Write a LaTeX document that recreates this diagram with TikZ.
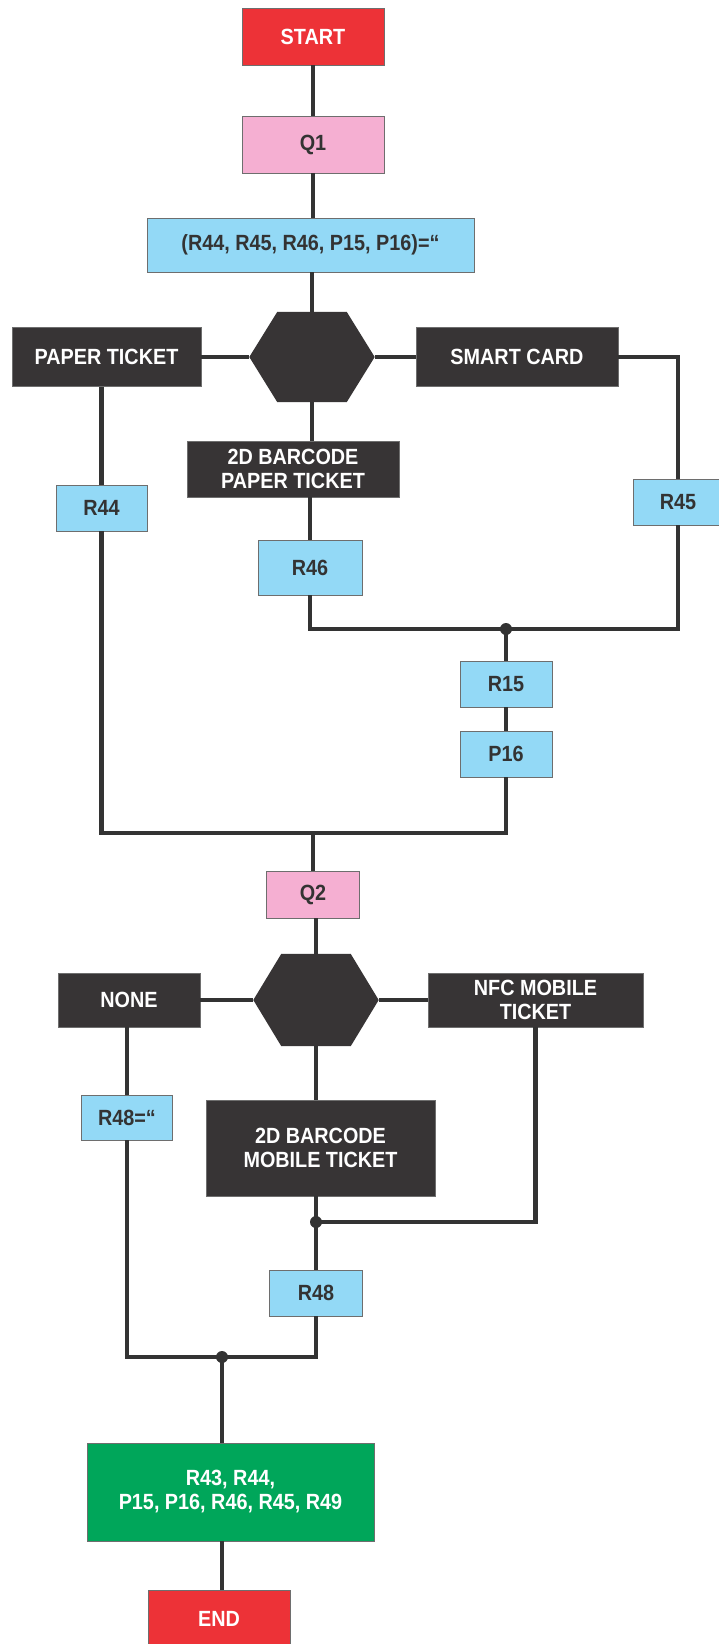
\documentclass[tikz,border=0pt]{standalone}
\usepackage{fontspec}
\setmainfont{Liberation Sans}[FakeStretch=0.9]
\usetikzlibrary{calc}
\definecolor{cred}{HTML}{ED3237}
\definecolor{cpink}{HTML}{F5AFD2}
\definecolor{ccyan}{HTML}{93D9F6}
\definecolor{cdark}{HTML}{373435}
\definecolor{cgreen}{HTML}{00A65A}
\definecolor{ctext}{HTML}{333333}
\definecolor{cline}{HTML}{333333}
\definecolor{boxedge}{HTML}{6E6E6E}
\begin{document}
\begin{tikzpicture}[x=1pt,y=-1pt,
  box/.style={rectangle, draw=boxedge, line width=0.9pt, inner sep=0pt, align=center,
    font=\fontsize{22}{24}\selectfont\bfseries},
  redbox/.style={box, fill=cred, text=white},
  pinkbox/.style={box, fill=cpink, text=ctext},
  cyanbox/.style={box, fill=ccyan, text=ctext},
  darkbox/.style={box, fill=cdark, text=white},
  greenbox/.style={box, fill=cgreen, text=white},
  hexnode/.style={rectangle, inner sep=0pt, minimum width=125pt, minimum height=90pt},
  wire/.style={draw=cline, line width=4.8pt, line join=miter},
  jdot/.style={circle, fill=cline, inner sep=0pt, minimum size=12pt},
]
\useasboundingbox (0,0) rectangle (718,1644);
\fill[white] (0,0) rectangle (718,1644);

% top part
\node[redbox, minimum width=142pt, minimum height=57pt] (start) at (313,36.5) {START};
\node[pinkbox, minimum width=142pt, minimum height=57pt] (q1) at (313,144.5) {Q1};
\node[cyanbox, minimum width=327pt, minimum height=54pt] (init) at (310.5,245) {(R44,\ R45,\ R46,\ P15,\ P16)=“};
\node[hexnode] (h1) at (312,357) {};
\fill[cdark] (h1.west) -- ([xshift=28pt]h1.north west) -- ([xshift=-28pt]h1.north east) -- (h1.east)
  -- ([xshift=-28pt]h1.south east) -- ([xshift=28pt]h1.south west) -- cycle;
\node[darkbox, minimum width=189pt, minimum height=59pt] (paper) at (106.5,357) {PAPER TICKET};
\node[darkbox, minimum width=202pt, minimum height=59pt] (smart) at (517,357) {SMART CARD};
\node[darkbox, minimum width=212pt, minimum height=56pt] (bpaper) at (293,469) {2D BARCODE\\PAPER TICKET};
\node[cyanbox, minimum width=91pt, minimum height=46pt] (r44) at (101.5,508) {R44};
\node[cyanbox, minimum width=90pt, minimum height=46pt] (r45) at (678,502) {R45};
\node[cyanbox, minimum width=104pt, minimum height=55pt] (r46) at (310,567.5) {R46};
\coordinate (j1) at (506,629);
\node[cyanbox, minimum width=92pt, minimum height=46pt] (r15) at (506,684) {R15};
\node[cyanbox, minimum width=92pt, minimum height=46pt] (p16) at (506,754) {P16};
\coordinate (j0) at (313,833);

% lower part
\node[pinkbox, minimum width=93pt, minimum height=47pt] (q2) at (313,894.5) {Q2};
\node[hexnode, minimum height=92pt] (h2) at (316,1000) {};
\fill[cdark] (h2.west) -- ([xshift=28pt]h2.north west) -- ([xshift=-28pt]h2.north east) -- (h2.east)
  -- ([xshift=-28pt]h2.south east) -- ([xshift=28pt]h2.south west) -- cycle;
\node[darkbox, minimum width=142pt, minimum height=54pt] (none) at (129,1000) {NONE};
\node[darkbox, minimum width=215pt, minimum height=54pt] (nfc) at (535.5,1000) {NFC MOBILE\\TICKET};
\node[cyanbox, minimum width=91pt, minimum height=45pt] (r48e) at (127,1117.5) {R48=“};
\node[darkbox, minimum width=229pt, minimum height=96pt] (bmobile) at (320.5,1148) {2D BARCODE\\MOBILE TICKET};
\coordinate (j2) at (316,1222);
\node[cyanbox, minimum width=93pt, minimum height=46pt] (r48) at (316,1293) {R48};
\coordinate (j3) at (222,1357);
\node[greenbox, minimum width=287pt, minimum height=98pt] (green) at (230.5,1492) {R43, R44,\\P15, P16, R46, R45, R49};
\node[redbox, minimum width=142pt, minimum height=57pt] (end) at (219,1619) {END};

% connectors
\draw[wire] (start.south) -- (q1.north);
\draw[wire] (q1.south) -- (q1.south |- init.north);
\draw[wire] (init.south -| h1.north) -- (h1.north);
\draw[wire] (h1.west) -- (paper.east);
\draw[wire] (h1.east) -- (smart.west);
\draw[wire] (smart.east) -| (r45.north);
\draw[wire] (h1.south) -- (h1.south |- bpaper.north);
\draw[wire] (bpaper.south -| r46.north) -- (r46.north);
\draw[wire] (r45.south) |- (j1) -| (r46.south);
\draw[wire] (j1) -- (r15.north);
\draw[wire] (r15.south) -- (p16.north);
\draw[wire] (paper.south -| r44.north) -- (r44.north);
\draw[wire] (r44.south) |- (j0) -| (p16.south);
\draw[wire] (j0) -- (q2.north);
\draw[wire] (q2.south -| h2.north) -- (h2.north);
\draw[wire] (h2.west) -- (none.east);
\draw[wire] (h2.east) -- (nfc.west);
\draw[wire] (none.south -| r48e.north) -- (r48e.north);
\draw[wire] (h2.south) -- (h2.south |- bmobile.north);
\draw[wire] (bmobile.south -| j2) -- (j2);
\draw[wire] (nfc.south) |- (j2);
\draw[wire] (j2) -- (r48.north);
\draw[wire] (r48e.south) |- (j3) -| (r48.south);
\draw[wire] (j3) -- (green.north -| j3);
\draw[wire] (green.south -| j3) -- (end.north -| j3);
\node[jdot] (d1) at (j1) {};
\node[jdot] (d2) at (j2) {};
\node[jdot] (d3) at (j3) {};
\end{tikzpicture}
\end{document}
